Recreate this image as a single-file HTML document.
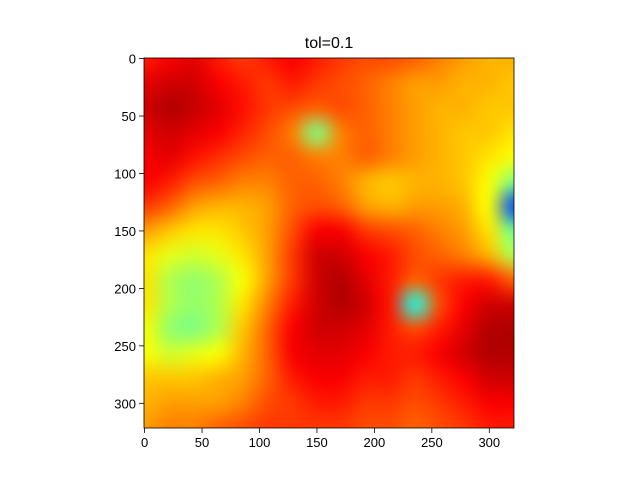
<!DOCTYPE html>
<html><head><meta charset="utf-8"><style>
body{margin:0;background:#fff;font-family:"Liberation Sans","DejaVu Sans",sans-serif;}
#wrap{position:relative;width:640px;height:480px;}
</style></head><body>
<div id="wrap">
<canvas id="hm" width="370" height="370" style="position:absolute;left:144px;top:58px"></canvas>
<svg id="ax" width="640" height="480" style="position:absolute;left:0;top:0"></svg>
</div>
<script>
const grid=[
[0.85,0.88,0.9,0.85,0.82,0.85,0.88,0.85,0.82,0.8,0.8,0.78,0.75,0.72,0.7,0.7],
[0.9,0.92,0.92,0.88,0.85,0.82,0.85,0.82,0.8,0.78,0.75,0.72,0.72,0.7,0.7,0.68],
[0.92,0.95,0.93,0.9,0.86,0.82,0.8,0.78,0.8,0.78,0.75,0.72,0.7,0.7,0.68,0.68],
[0.9,0.92,0.9,0.88,0.84,0.8,0.75,0.5,0.75,0.78,0.75,0.72,0.7,0.68,0.68,0.65],
[0.88,0.9,0.86,0.83,0.8,0.78,0.78,0.75,0.75,0.78,0.75,0.72,0.7,0.68,0.65,0.62],
[0.88,0.85,0.8,0.78,0.75,0.75,0.78,0.78,0.75,0.7,0.68,0.7,0.7,0.68,0.62,0.5],
[0.82,0.78,0.72,0.7,0.7,0.72,0.78,0.8,0.78,0.72,0.7,0.72,0.72,0.7,0.62,0.2],
[0.72,0.68,0.65,0.65,0.68,0.72,0.8,0.88,0.88,0.82,0.8,0.78,0.75,0.72,0.65,0.48],
[0.65,0.6,0.58,0.6,0.65,0.72,0.82,0.92,0.92,0.88,0.85,0.8,0.78,0.75,0.7,0.55],
[0.65,0.55,0.52,0.55,0.62,0.72,0.82,0.92,0.95,0.9,0.85,0.78,0.82,0.85,0.85,0.78],
[0.65,0.55,0.52,0.55,0.65,0.75,0.85,0.92,0.95,0.92,0.85,0.4,0.8,0.88,0.92,0.92],
[0.62,0.52,0.5,0.55,0.68,0.78,0.88,0.92,0.92,0.9,0.85,0.8,0.85,0.9,0.95,0.95],
[0.62,0.58,0.6,0.62,0.7,0.78,0.88,0.9,0.9,0.88,0.85,0.85,0.88,0.92,0.95,0.95],
[0.68,0.68,0.68,0.7,0.72,0.78,0.85,0.88,0.88,0.85,0.85,0.82,0.85,0.88,0.92,0.92],
[0.7,0.72,0.72,0.72,0.75,0.8,0.82,0.85,0.85,0.82,0.82,0.8,0.82,0.85,0.88,0.88],
[0.72,0.75,0.75,0.78,0.8,0.82,0.82,0.82,0.82,0.8,0.8,0.78,0.8,0.82,0.85,0.85]];
const xTicks=[0,50,100,150,200,250,300];
const yTicks=[0,50,100,150,200,250,300];
const title="tol=0.1";
const N=322, L=144, T=58, W=370, H=370;
function sx(v){return L+(v+0.5)*W/N;}
function sy(v){return T+(v+0.5)*H/N;}
function jet(v){
  const c=x=>Math.max(0,Math.min(1,x));
  const r=c(1.5-Math.abs(4*v-3)), g=c(1.5-Math.abs(4*v-2)), b=c(1.5-Math.abs(4*v-1));
  return [r*255,g*255,b*255];
}
const rows=grid.length, cols=grid[0].length;
const small=document.createElement('canvas');small.width=cols;small.height=rows;
const sc=small.getContext('2d');const id=sc.createImageData(cols,rows);
grid.forEach((row,i)=>row.forEach((v,j)=>{const k=(i*cols+j)*4;const c=jet(v);
  id.data[k]=c[0];id.data[k+1]=c[1];id.data[k+2]=c[2];id.data[k+3]=255;}));
sc.putImageData(id,0,0);
const ctx=document.getElementById('hm').getContext('2d');
ctx.imageSmoothingEnabled=true;ctx.imageSmoothingQuality='high';
ctx.drawImage(small,-W/cols/2,-H/rows/2,W+W/cols,H+H/rows);
const svg=document.getElementById('ax');const NS='http://www.w3.org/2000/svg';
function mk(t,a,txt){const e=document.createElementNS(NS,t);for(const k in a)e.setAttribute(k,a[k]);if(txt!==undefined)e.textContent=txt;svg.appendChild(e);return e;}
const fr=mk('rect',{x:L,y:T,width:W,height:H,fill:'none',stroke:'#000','stroke-width':0.8});


xTicks.forEach(v=>{const x=sx(v);
  const l=mk('line',{x1:x,x2:x,y1:T+H,y2:T+H+5,stroke:'#000','stroke-width':0.8});
  
  
  const t=mk('text',{x:x,y:T+H+19,'text-anchor':'middle','font-size':'13px'},v);
  
  });
yTicks.forEach(v=>{const y=sy(v);
  const l=mk('line',{x1:L-5,x2:L,y1:y,y2:y,stroke:'#000','stroke-width':0.8});
  
  
  const t=mk('text',{x:L-8,y:y+5,'text-anchor':'end','font-size':'13px'},v);
  
  });
const tt=mk('text',{x:L+W/2,y:T-10,'text-anchor':'middle','font-size':'16px'},title);


</script>
</body></html>
